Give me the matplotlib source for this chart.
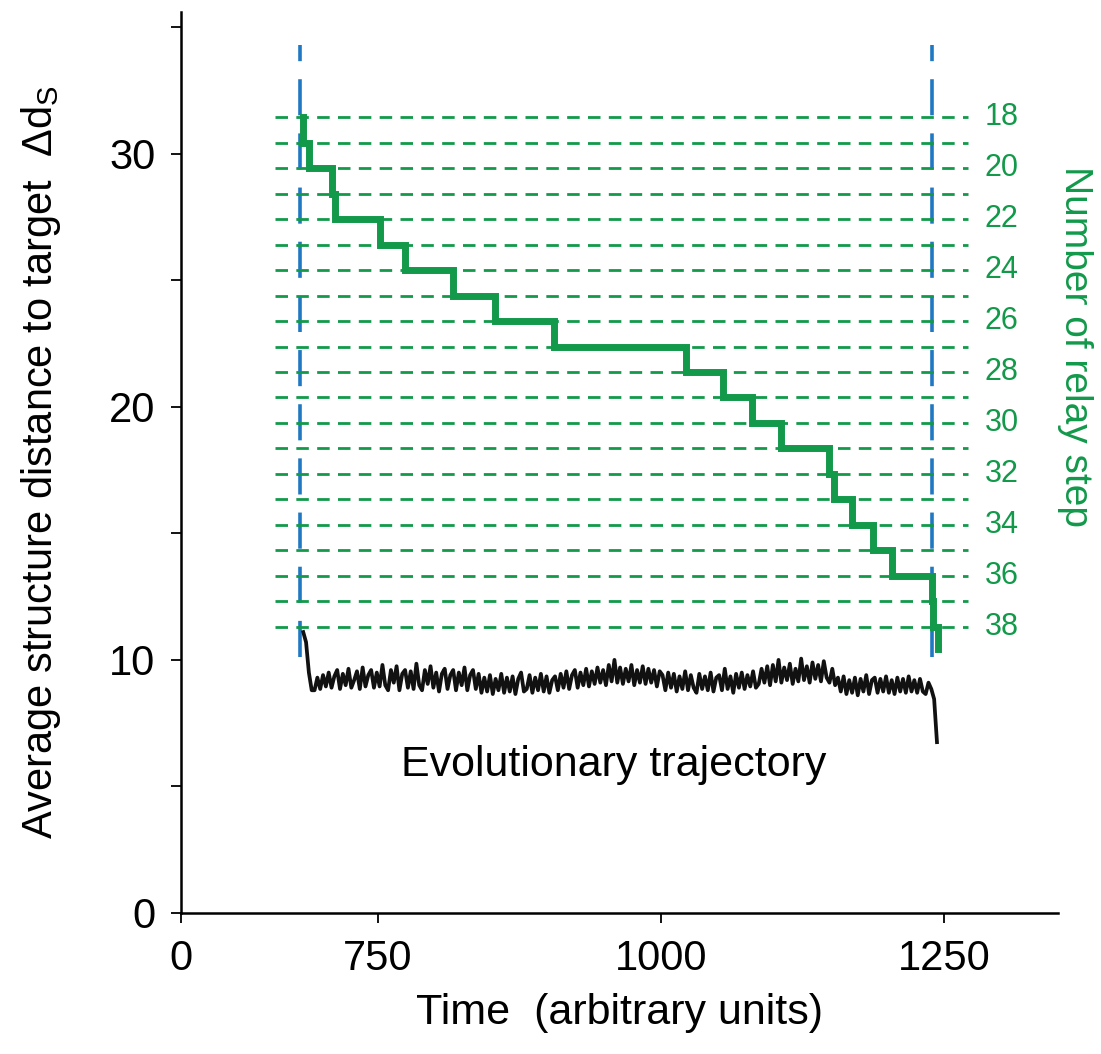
import numpy as np
import matplotlib
matplotlib.use("Agg")
import matplotlib.pyplot as plt

plt.rcParams['font.family'] = ['Liberation Sans', 'DejaVu Sans']
plt.rcParams['mathtext.fontset'] = 'custom'
plt.rcParams['mathtext.rm'] = 'Liberation Sans'

# relay steps (green staircase) and the times the relay moves on to the next step
relay_steps = list(range(18, 39))
relay_labels = list(range(18, 39, 2))
step_change_times = [683.7, 689.0, 709.4, 712.0, 751.8, 773.9, 816.3, 853.4, 905.5,
                     1022.1, 1054.8, 1080.4, 1106.0, 1148.4, 1152.7, 1168.7, 1187.3,
                     1204.1, 1239.4, 1240.3, 1244.7]
last_step_end = 38.9

# relay window (blue dashed lines)
window_times = [681, 1240]

# evolutionary trajectory (average structure distance)
traj_start, traj_end = 684, 1244
traj_values = [
    11.1, 10.7, 9.5, 8.8,
    8.8, 9.3, 8.85, 9.4, 8.95, 9.5, 8.9, 9.35, 9.6, 8.85, 9.45, 9.0, 9.65, 8.9, 9.2,
    9.55, 8.85, 9.7, 8.95, 9.4, 9.6, 8.9, 9.5, 8.95, 9.8, 9.0, 8.8, 9.6, 9.1, 9.75,
    8.8, 9.45, 9.6, 8.9, 9.55, 8.85, 9.85, 9.0, 8.8, 9.6, 9.05, 9.75, 8.9, 9.5, 8.75,
    9.45, 9.65, 8.85, 9.4, 9.6, 8.8, 9.5, 9.0, 9.7, 8.8, 9.4, 9.6, 8.85, 9.45,
    8.7, 9.3, 8.75, 9.4, 8.65, 9.25, 8.8, 9.45, 8.7, 9.3, 8.75, 9.35, 8.65,
    9.25, 9.5, 8.75, 8.85, 9.4, 8.7, 9.3, 8.8, 9.45, 8.75, 9.35, 8.7, 9.2,
    9.35, 8.8, 9.45, 8.9, 9.55, 8.85, 9.4, 9.6, 8.9, 9.5, 9.0, 9.65, 8.95, 9.55,
    9.05, 9.7, 9.1, 9.6, 9.0, 9.8, 9.15, 10.0, 9.1, 9.7, 9.05, 9.65, 9.15,
    9.8, 9.0, 9.6, 9.1, 9.75, 9.05, 9.65, 9.1, 9.6, 8.95, 9.55,
    9.4, 8.8, 9.5, 8.9, 9.45, 8.75, 9.35, 8.85, 9.55, 8.8, 9.4, 8.9, 8.7, 9.45, 8.85, 9.35, 8.8,
    9.5, 8.75, 9.3, 9.4, 8.8, 9.65, 8.85, 9.35, 8.7, 9.45, 8.9, 9.5, 8.85, 9.4, 8.95, 9.55, 8.9,
    9.05, 9.65, 9.1, 9.75, 9.0, 9.8, 9.15, 10.0, 9.1, 9.7, 9.2, 9.85, 9.05, 9.65,
    9.15, 10.05, 9.2, 9.75, 9.1, 9.9, 9.25, 9.8, 9.15, 9.95, 9.3, 9.1, 9.65, 9.0,
    9.3, 8.75, 9.35, 8.65, 9.2, 8.7, 9.3, 8.6, 9.25, 8.75, 9.4, 8.65, 9.2, 9.3, 8.7, 9.25, 8.75,
    9.35, 8.7, 9.2, 8.65, 9.3, 8.75, 9.25, 8.7, 9.35, 8.75, 9.2, 8.7, 9.25, 8.75, 8.65, 9.1,
    8.85, 8.45, 6.75,
]

x_ticks = [576, 750, 1000, 1250]
x_tick_labels = ['0', '750', '1000', '1250']

green = '#12994a'
blue = '#1f78c1'

fig = plt.figure(figsize=(11.01, 10.54), dpi=100)
ax = fig.add_axes([0.1644, 0.1338, 0.7966, 0.8548])
ax.set_xlim(576, 1351)
ax.set_ylim(0, 35.6)

for s in ['top', 'right']:
    ax.spines[s].set_visible(False)
for s in ['left', 'bottom']:
    ax.spines[s].set_linewidth(1.8)

ax.set_xticks(x_ticks)
ax.set_xticklabels(x_tick_labels)
ax.set_yticks([0, 10, 20, 30])
ax.set_yticks([5, 15, 25, 35], minor=True)
ax.tick_params(axis='both', which='both', direction='out', length=7.5, width=1.3,
               labelsize=30)
ax.tick_params(axis='x', pad=11)
ax.tick_params(axis='y', pad=11)

ax.set_xlabel('Time  (arbitrary units)', fontsize=31, labelpad=10)
ax.set_ylabel('Average structure distance to target  \u0394d$_\\mathregular{S}$',
              fontsize=30, labelpad=33)

# second axis for the relay step scale
ax2 = ax.twinx()
ax2.set_ylim(49.25, 13.86)
ax2.axis('off')

ax2.hlines(relay_steps, 659, 1271, colors=green, linewidth=2.0,
           linestyles=(0, (4.5, 3)), zorder=1)

ax.vlines(window_times, 10.1, 34.3, colors=blue, linewidth=2.6,
          linestyles=(0, (10, 5)), zorder=2)

traj_t = np.linspace(traj_start, traj_end, len(traj_values))
ax.plot(traj_t, traj_values, color='#111111', linewidth=2.7, zorder=3)

stair_x = [step_change_times[0]] + step_change_times
stair_y = [relay_steps[0]] + relay_steps[1:] + [relay_steps[-1] + 1]
stair_y[-1] = last_step_end
ax2.plot(stair_x, stair_y, color=green, linewidth=5, drawstyle='steps-post',
         solid_joinstyle='miter', zorder=4)

for n in relay_labels:
    ax2.text(1286, n, str(n), color=green, fontsize=22, va='center', ha='left')

ax2.text(1366, 27.0, 'Number of relay step', color=green, fontsize=28,
         rotation=-90, va='center', ha='center', clip_on=False)

ax.text(958, 5.85, 'Evolutionary trajectory', fontsize=31, ha='center', va='center')

fig.savefig('out.png', dpi=100)
